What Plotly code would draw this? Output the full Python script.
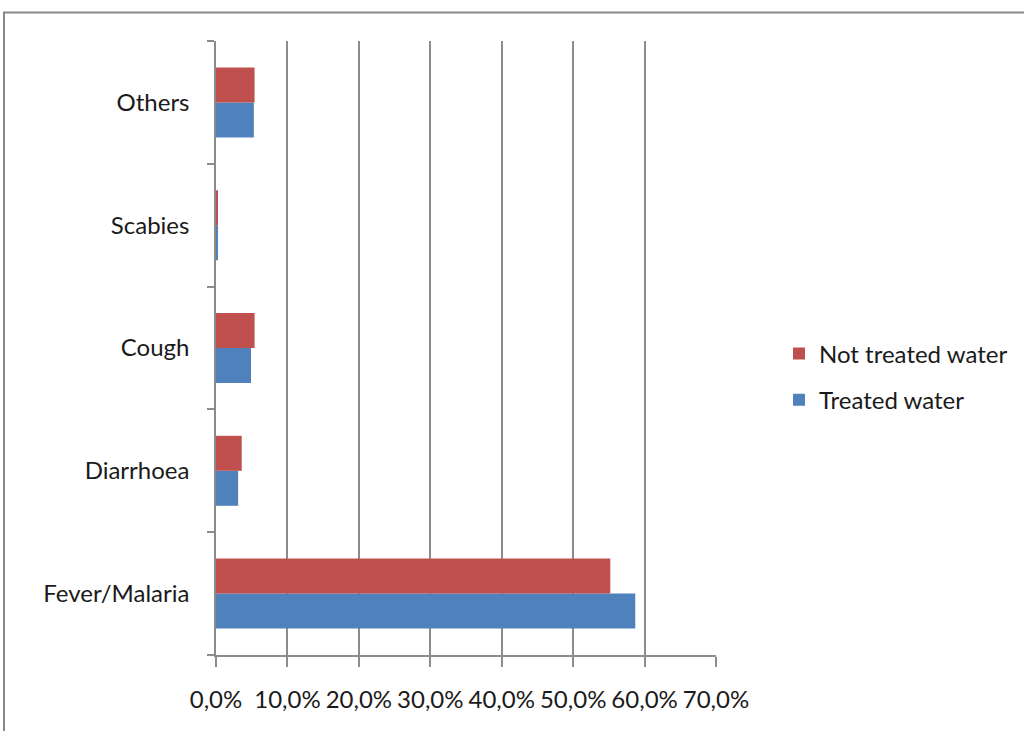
import plotly.graph_objects as go

# Share of reported illness by drinking-water treatment
categories = ["Fever/Malaria", "Diarrhoea", "Cough", "Scabies", "Others"]
treated = [58.7, 3.1, 4.9, 0.2, 5.3]
not_treated = [55.2, 3.6, 5.4, 0.2, 5.4]
tick_vals = [0, 10, 20, 30, 40, 50, 60, 70]
tick_text = ["0,0%", "10,0%", "20,0%", "30,0%", "40,0%", "50,0%", "60,0%", "70,0%"]

BLUE = "#4F81BD"
RED = "#C0504D"
GREY = "#8C8C8C"
FONT = "Lato"
FSIZE = 24

W, H = 1024, 731
L, R, T, B = 216, 308, 41, 76

fig = go.Figure()
fig.add_trace(go.Bar(
    y=categories, x=treated, orientation="h", name="Treated water",
    marker=dict(color=BLUE, line=dict(width=0)), legendgroup="t", legendrank=2,
))
fig.add_trace(go.Bar(
    y=categories, x=not_treated, orientation="h", name="Not treated water",
    marker=dict(color=RED, line=dict(width=0)), legendgroup="n", legendrank=1,
))

# outer chart frame
pw, ph = W - L - R, H - T - B
def px_x(p):
    return (p - L) / pw
def px_y(p):
    return (H - B - p) / ph
fig.add_shape(type="rect", xref="paper", yref="paper",
              x0=px_x(4), x1=px_x(W + 20), y0=px_y(H + 20), y1=px_y(12.5),
              line=dict(color="#888888", width=2), layer="below")

fig.update_layout(
    width=W, height=H,
    margin=dict(l=L, r=R, t=T, b=B, autoexpand=False),
    paper_bgcolor="white", plot_bgcolor="white",
    barmode="group", bargap=0.43, bargroupgap=0,
    font=dict(family=FONT, size=FSIZE, color="#1a1a1a"),
    showlegend=True,
    legend=dict(
        x=px_x(779), xanchor="left", y=px_y(377), yanchor="middle",
        traceorder="grouped", tracegroupgap=12,
        font=dict(family=FONT, size=FSIZE, color="#1a1a1a"),
        bgcolor="rgba(0,0,0,0)", itemwidth=30,
    ),
    xaxis=dict(
        range=[0, 70], tickvals=tick_vals, ticktext=tick_text,
        showgrid=True, gridcolor=GREY, gridwidth=1.5,
        showline=True, linecolor=GREY, linewidth=1.5,
        ticks="outside", ticklen=10, tickcolor=GREY, tickwidth=1.5,
        ticklabelstandoff=12, zeroline=False, fixedrange=True,
    ),
    yaxis=dict(
        type="category", categoryorder="array", categoryarray=categories,
        showline=True, linecolor=GREY, linewidth=1.5,
        ticks="outside", tickson="boundaries", ticklen=7,
        tickcolor=GREY, tickwidth=1.5, ticklabelstandoff=20,
        showgrid=False, fixedrange=True,
    ),
)

fig.write_html("out.html")
